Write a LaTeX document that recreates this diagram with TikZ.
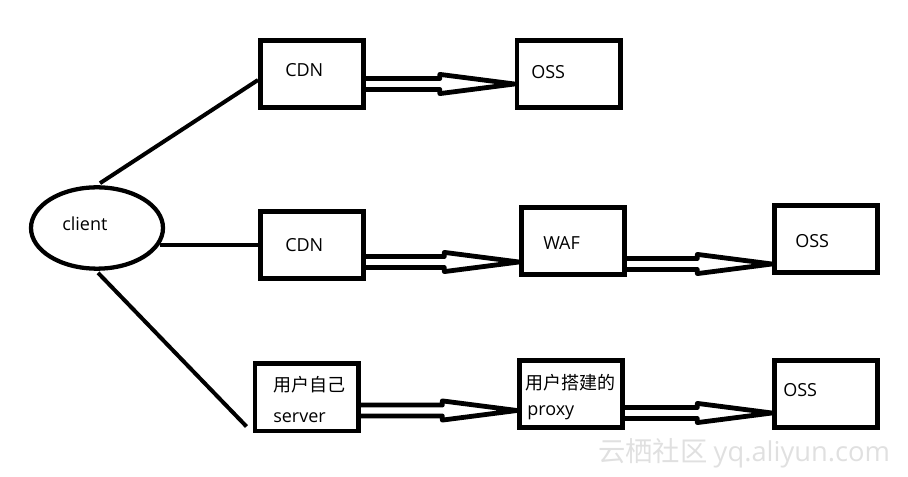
\documentclass[tikz,border=0pt]{standalone}
\usepackage{fontspec}
\setmainfont{Open Sans}
\newfontfamily\cjk{Noto Sans CJK SC}
\usepackage{tikz}
\usetikzlibrary{calc, shapes.geometric}

% hollow double-shaft arrow from #1 to #2, #3 = offset below the centre of #1
\newcommand{\fatarrow}[3]{%
  \draw[fat] let \p1=($(#1.east)+(0,#3)$), \p2=(#2.west) in
    (\x1,\y1+4.1pt) -- (\x2-56pt,\y1+4.1pt) -- (\x2-56pt,\y1+7.2pt) -- (\x2,\y1)
    -- (\x2-56pt,\y1-7.2pt) -- (\x2-56pt,\y1-4.1pt) -- (\x1,\y1-4.1pt);}

\begin{document}
\begin{tikzpicture}[
  x=0.75pt, y=-0.75pt,
  box/.style={draw, line width=3.4pt, minimum width=77.6pt, minimum height=50.6pt},
  oval/.style={draw, ellipse, line width=3.2pt, minimum width=99pt, minimum height=61pt},
  txt/.style={anchor=west, inner sep=0pt, font=\fontsize{13.5}{16}\selectfont},
  link/.style={line width=3pt},
  fat/.style={line width=3.6pt, line join=round}
]
\useasboundingbox (0,0) rectangle (908,477);

% CLIENT
\node[oval] (client) at (97,228) {};
\node[txt] at (62,224) {client};

% TOP ROW
\node[box] (cdna) at (312,74) {};
\node[txt] at (285,70) {CDN};
\node[box] (ossa) at (568.5,74) {};
\node[txt] at (531,72) {OSS};

% MIDDLE ROW
\node[box] (cdnb) at (312,245) {};
\node[txt] at (285,245) {CDN};
\node[box] (waf) at (573,241) {};
\node[txt] at (543,243) {WAF};
\node[box] (ossb) at (826,239) {};
\node[txt] at (795,241) {OSS};

% BOTTOM ROW
\node[box] (srv) at (306.5,397.5) {};
\node[txt] at (273,385) {\cjk 用户自己};
\node[txt] at (273,418) {server};
\node[box] (proxy) at (571,394) {};
\node[txt] at (525,383) {\cjk 用户搭建的};
\node[txt] at (527,413) {proxy};
\node[box] (ossc) at (826,394) {};
\node[txt] at (783,390) {OSS};

% client links
\draw[link] ($(client.north)+(3,-2)$) -- ($(cdna.west)+(0,6)$);
\draw[link] ($(cdnb.west -| client.east)+(-5,0)$) -- (cdnb.west);
\draw[link] ($(client.south)+(1,2)$) -- ($(srv.south west)+(-6,-7)$);

% forwarding arrows
\fatarrow{cdna}{ossa}{10}
\fatarrow{cdnb}{waf}{17}
\fatarrow{waf}{ossb}{23}
\fatarrow{srv}{proxy}{13}
\fatarrow{proxy}{ossc}{19}

% watermark
\node[anchor=west, inner sep=0pt, text=black!12, font=\fontsize{20.5}{22}\selectfont] (mark) at (598,453) {\cjk 云栖社区 \rmfamily yq.aliyun.com};
\end{tikzpicture}
\end{document}
